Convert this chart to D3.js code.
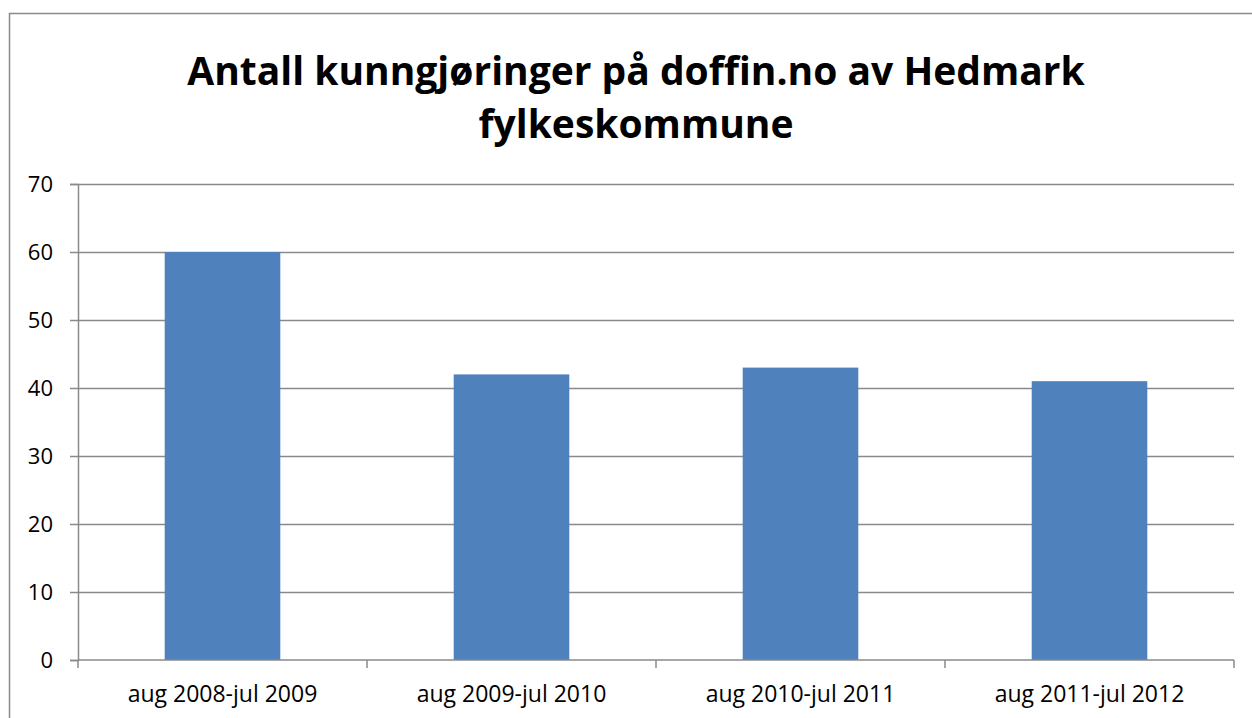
<!DOCTYPE html>
<html>
<head>
<meta charset="utf-8">
<script src="https://cdn.jsdelivr.net/npm/d3@7"></script>
<style>
	body { margin: 0; background: #fff; }
	svg { display: block; }
	text { font-family: "Open Sans", sans-serif; fill: #000; }
</style>
</head>
<body>
<div id="chart"></div>
<script>
const categories = ["aug 2008-jul 2009", "aug 2009-jul 2010", "aug 2010-jul 2011", "aug 2011-jul 2012"];
const values = [60, 42, 43, 41];
const yTicks = [0, 10, 20, 30, 40, 50, 60, 70];
const titleLines = ["Antall kunngjøringer på doffin.no av Hedmark", "fylkeskommune"];

const width = 1252,
		height = 718,
		margin = { left: 78, right: 18, top: 184, bottom: 58 };

const svg = d3.select("#chart")
	.append("svg")
		.attr("width", width)
		.attr("height", height);

// outer frame (only left and top visible inside the crop)
svg.append("rect")
	.attr("x", 9.5)
	.attr("y", 13.5)
	.attr("width", width + 20)
	.attr("height", height + 20)
	.attr("fill", "none")
	.attr("stroke", "#8a8a8a")
	.attr("stroke-width", 1.5);

const x = d3.scaleBand()
	.domain(categories)
	.range([margin.left, width - margin.right])
	.paddingInner(0.6)
	.paddingOuter(0.3);

const y = d3.scaleLinear()
	.domain([0, 70])
	.range([height - margin.bottom, margin.top]);

// Gridlines + y axis
const yAxis = svg.append("g")
	.attr("transform", `translate(${margin.left},0)`)
	.call(d3.axisLeft(y)
		.tickValues(yTicks)
		.tickSize(8)
		.tickPadding(17)
		.tickFormat(d3.format("d")));

yAxis.select(".domain").attr("stroke", "#8a8a8a").attr("stroke-width", 1.5);
yAxis.selectAll(".tick line").attr("stroke", "#8a8a8a").attr("stroke-width", 1.5);
yAxis.selectAll(".tick text")
	.style("font-size", "22px")
	.style("font-family", "'Open Sans', sans-serif")
	.attr("fill", "#000");

yAxis.selectAll(".tick")
	.filter((d) => d > 0)
	.append("line")
		.attr("x1", 0)
		.attr("x2", width - margin.right - margin.left)
		.attr("stroke", "#8a8a8a")
		.attr("stroke-width", 1.5);

// Bars
svg.append("g")
	.selectAll("rect")
		.data(values)
		.enter()
		.append("rect")
			.attr("x", (d, i) => x(categories[i]))
			.attr("width", x.bandwidth())
			.attr("y", (d) => y(d))
			.attr("height", (d) => y(0) - y(d))
			.attr("fill", "#4f81bd");

// x axis
const x0 = margin.left;
const plotW = width - margin.right - margin.left;
const xg = svg.append("g");

xg.append("line")
	.attr("x1", x0)
	.attr("x2", width - margin.right)
	.attr("y1", y(0))
	.attr("y2", y(0))
	.attr("stroke", "#8a8a8a")
	.attr("stroke-width", 1.5);

xg.selectAll("line.tick")
	.data(d3.range(categories.length + 1))
	.enter()
	.append("line")
		.attr("class", "tick")
		.attr("x1", (d) => x0 + d * plotW / categories.length)
		.attr("x2", (d) => x0 + d * plotW / categories.length)
		.attr("y1", y(0))
		.attr("y2", y(0) + 8)
		.attr("stroke", "#8a8a8a")
		.attr("stroke-width", 1.5);

xg.selectAll("text")
	.data(categories)
	.enter()
	.append("text")
		.attr("x", (d) => x(d) + x.bandwidth() / 2)
		.attr("y", y(0) + 42)
		.attr("text-anchor", "middle")
		.style("font-size", "23px")
		.text((d) => d);

// Title
svg.append("g")
	.selectAll("text")
		.data(titleLines)
		.enter()
		.append("text")
			.attr("x", 636)
			.attr("y", (d, i) => 85 + i * 53)
			.attr("text-anchor", "middle")
			.style("font-size", "39px")
			.style("font-weight", "bold")
			.text((d) => d);
</script>
</body>
</html>
